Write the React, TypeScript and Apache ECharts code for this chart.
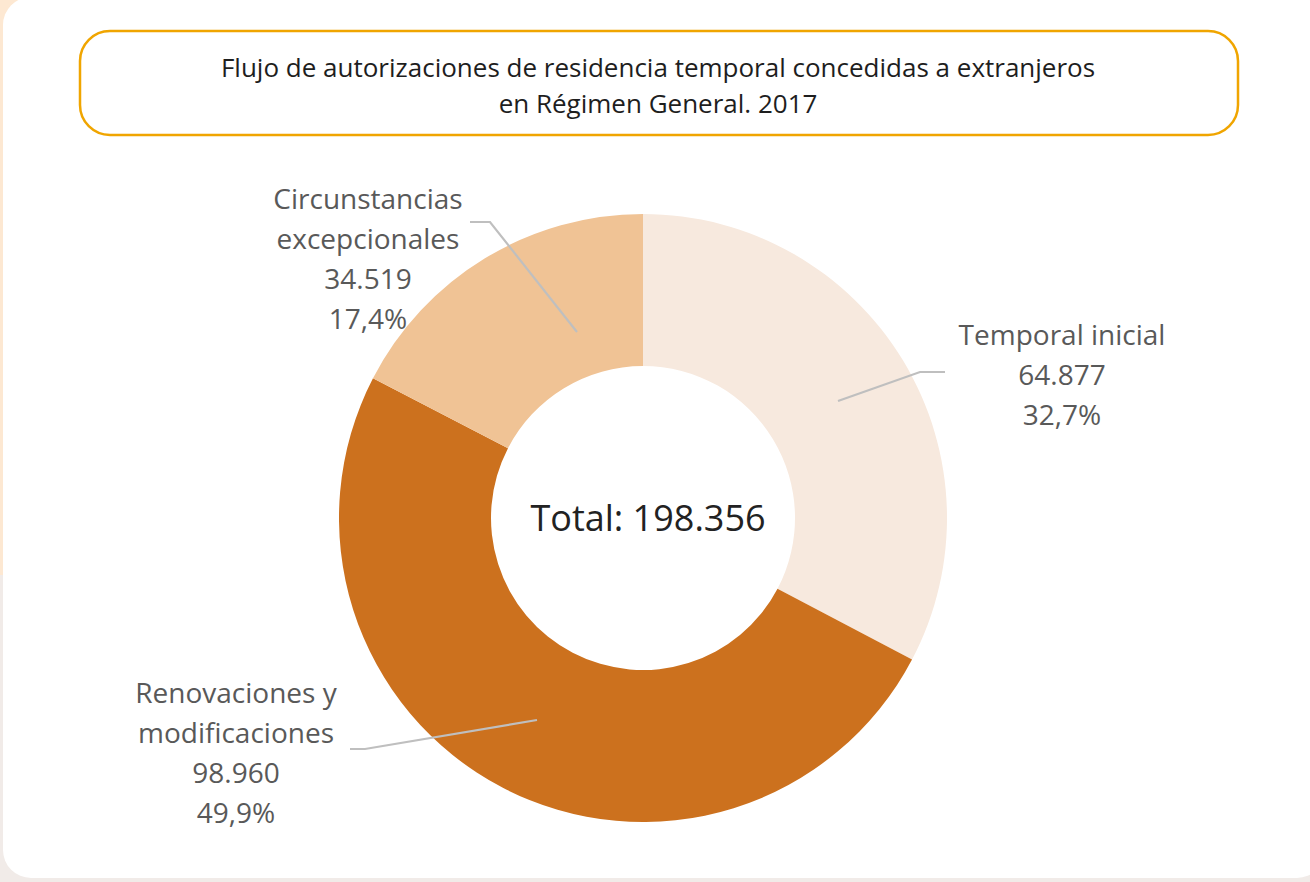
import React, { useEffect, useRef } from "react";
import * as echarts from "echarts";

const titleLines = [
  "Flujo de autorizaciones de residencia temporal concedidas a extranjeros",
  "en Régimen General. 2017",
];
const categories = ["Temporal inicial", "Renovaciones y\nmodificaciones", "Circunstancias\nexcepcionales"];
const values = [64877, 98960, 34519];
const colors = ["#f7e9de", "#cc711e", "#f0c395"];
const totalLabel = "Total: 198.356";

const fmtInt = (v: number) => v.toString().replace(/\B(?=(\d{3})+(?!\d))/g, ".");
const fmtPct = (p: number) => p.toFixed(1).replace(".", ",") + "%";

const labelPos = [
  { x: 1062, y: 374, line: [[838, 401], [920, 372], [945, 372]] },
  { x: 236, y: 752, line: [[537, 720], [365, 749], [350, 749]] },
  { x: 368, y: 258, line: [[577, 332], [490, 222], [470, 222]] },
];

export default function App() {
  const ref = useRef<HTMLDivElement>(null);
  useEffect(() => {
    document.body.style.margin = "0";
    const chart = echarts.init(ref.current!, null, { renderer: "svg" });
    const total = values.reduce((a, b) => a + b, 0);
    const data = categories.map((name, i) => ({ name, value: values[i], itemStyle: { color: colors[i] } }));
    chart.setOption({
      animation: false,
      backgroundColor: "#f1ebe8",
      graphic: [
        { type: "rect", z: -10, shape: { x: 0, y: 0, width: 40, height: 575 }, style: { fill: "#fde8d2" } },
        { type: "rect", z: -9, shape: { x: 3, y: -3, width: 1322, height: 881, r: 28 }, style: { fill: "#ffffff" } },
        {
          type: "rect",
          z: -8,
          shape: { x: 80, y: 31, width: 1158, height: 104, r: 30 },
          style: { fill: "#ffffff", stroke: "#f0a500", lineWidth: 2.5 },
        },
        ...titleLines.map((t, i) => ({
          type: "text",
          x: 658,
          y: 67 + i * 36,
          style: {
            text: t,
            fontFamily: "Open Sans",
            fontSize: 26,
            lineHeight: 28,
            fill: "#1e1e1e",
            align: "center",
            verticalAlign: "middle",
          },
        })),
        {
          type: "text",
          x: 648,
          y: 517,
          style: {
            text: totalLabel,
            fontFamily: "Open Sans",
            fontSize: 36,
            fill: "#222222",
            align: "center",
            verticalAlign: "middle",
          },
        },
      ],
      series: [
        {
          type: "pie",
          z: 2,
          center: [643, 518],
          radius: [152, 304],
          startAngle: 90,
          clockwise: true,
          silent: true,
          data,
          label: { show: false },
          labelLine: { show: false },
        },
        {
          type: "pie",
          z: 5,
          center: [643, 518],
          radius: [152, 304],
          startAngle: 90,
          clockwise: true,
          silent: true,
          data: data.map((d) => ({ ...d, itemStyle: { color: "rgba(0,0,0,0)" } })),
          label: {
            show: true,
            formatter: (p: any) => `${p.name}\n${fmtInt(p.value)}\n${fmtPct((p.value / total) * 100)}`,
            fontFamily: "Open Sans",
            fontSize: 28,
            lineHeight: 40,
            color: "#595959",
            align: "center",
          },
          labelLine: { show: true, lineStyle: { color: "#bfbfbf", width: 2.2 } },
          labelLayout: (params: any) => {
            const lp = labelPos[params.dataIndex];
            return {
              x: lp.x,
              y: lp.y,
              align: "center",
              verticalAlign: "middle",
              labelLinePoints: lp.line,
            };
          },
        },
      ],
    });
    return () => chart.dispose();
  }, []);
  return <div ref={ref} style={{ width: 1310, height: 882 }} />;
}
